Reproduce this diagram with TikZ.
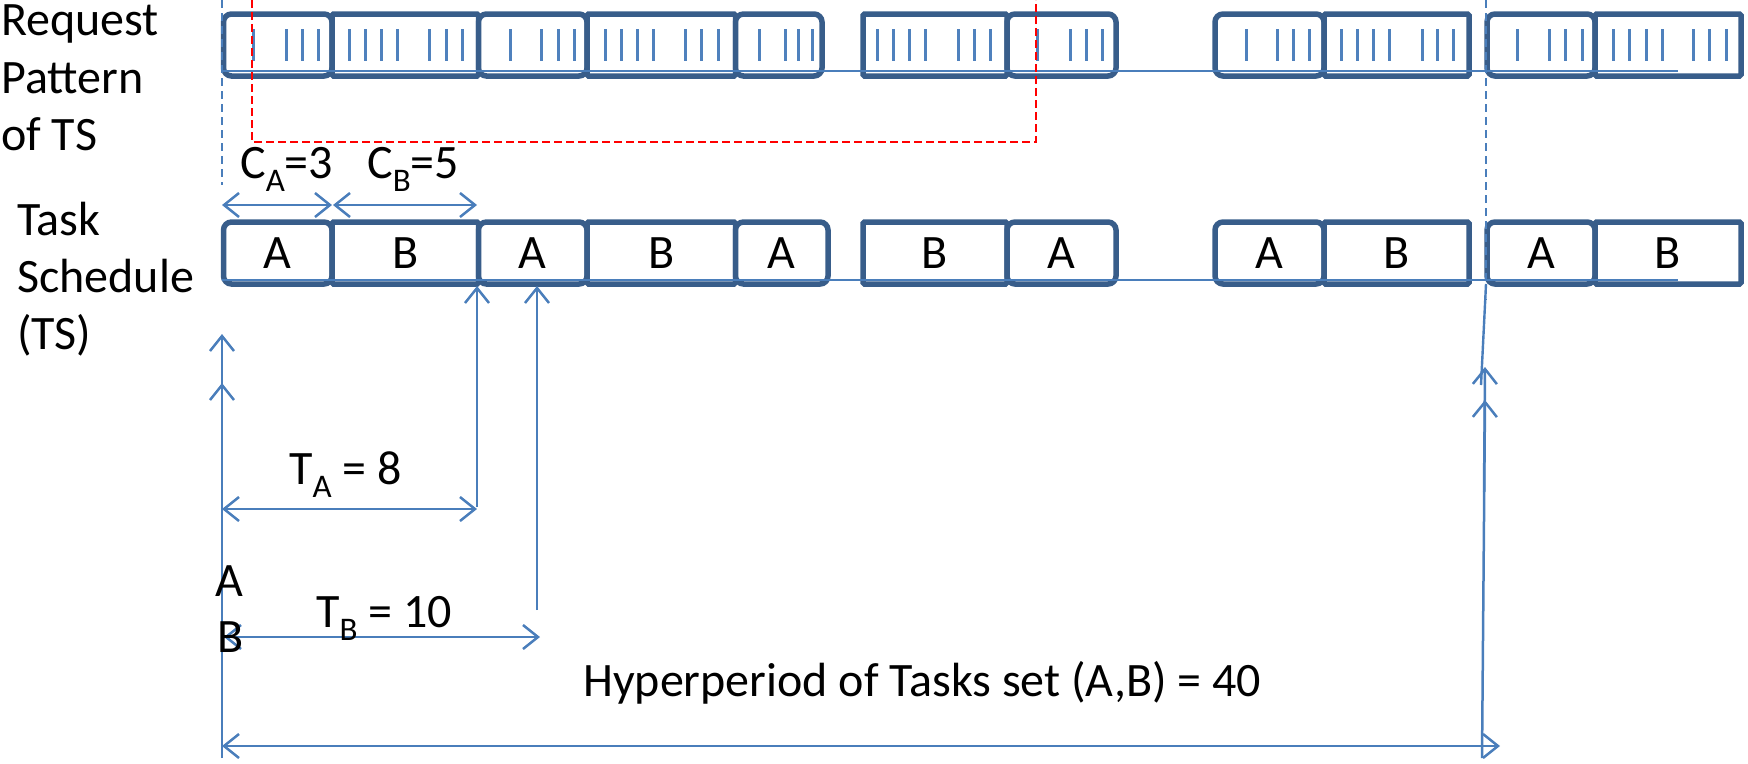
\documentclass[tikz,border=0pt]{standalone}
\usepackage{fontspec}
\setmainfont{Carlito}
\usetikzlibrary{arrows.meta}

\definecolor{boxblue}{HTML}{385D8A}
\definecolor{lineblue}{HTML}{4A7EBB}
\definecolor{tickblue}{HTML}{4F81BD}

% subscript in the label font
\newcommand\lowsub[1]{\raisebox{-13pt}{\fontsize{33}{33}\selectfont #1}}
% a time slot given by its left, right, top and bottom edges
\newcommand\slot[7]{\node[#2, minimum width={(#4)-(#3)}, minimum height={(#6)-(#5)}]
  (#1) at ({((#3)+(#4))/2},{((#5)+(#6))/2}) {#7};}

\tikzset{
  barb/.tip={Straight Barb[length=15pt,width=24pt]},
  big/.style={font=\fontsize{48}{58}\selectfont},
  slotbox/.style={draw=boxblue, line width=5.5pt, fill=white, inner sep=0pt, big},
  aslot/.style={slotbox, rounded corners=8pt},
  bslot/.style={slotbox, rounded corners=1.5pt},
  baseline/.style={lineblue, line width=2.4pt},
  dim/.style={lineblue, line width=2.5pt, barb-barb},
  up/.style={lineblue, line width=2.5pt, -barb},
  tickmark/.style={tickblue, line width=3pt},
  guide/.style={lineblue, line width=2.4pt, dash pattern=on 8pt off 5pt},
  window/.style={red, line width=2.5pt, dash pattern=on 8pt off 4pt},
  txt/.style={big, inner sep=0pt, anchor=base west},
}

\begin{document}
\begin{tikzpicture}[x=1pt, y=-1pt]
\useasboundingbox (0,0) rectangle (1748,763);

% ---- request pattern row ----
\slot{r1}{aslot}{223.5}{332}{14}{76}{}
\slot{r2}{bslot}{332}{478.5}{14}{76}{}
\slot{r3}{aslot}{478.5}{587}{14}{76}{}
\slot{r4}{bslot}{587}{735.5}{14}{76}{}
\slot{r5}{aslot}{735.5}{822}{14}{76}{}
\slot{r6}{bslot}{863}{1007}{14}{76}{}
\slot{r7}{aslot}{1007}{1116}{14}{76}{}
\slot{r8}{aslot}{1215}{1324}{14}{76}{}
\slot{r9}{bslot}{1324}{1469}{14}{76}{}
\slot{r10}{aslot}{1487}{1595}{14}{76}{}
\slot{r11}{bslot}{1595}{1741}{14}{76}{}

\foreach \x in {253,286,302,318, 349,365,381,397,429,446,462,
                510,541,558,574, 605,621,637,653,685,701,718,
                759,785,798,812, 877,893.5,909,925.5,958,974,990,
                1037,1070,1086,1102, 1246,1277,1293,1309,
                1341.5,1357,1373,1389,1422,1437,1453,
                1517,1549,1565,1582, 1613,1629,1646,1662,1693,1709,1726}
  \draw[tickmark] (\x,29) -- (\x,61);

\coordinate (rb0) at (221.5,71);
\coordinate (rb1) at (1678,71);
\draw[baseline] (rb0) -- (rb1);

% ---- task schedule row ----
\slot{s1}{aslot}{223.5}{332}{222}{284}{A}
\slot{s2}{bslot}{332}{478.5}{222}{284}{B}
\slot{s3}{aslot}{478.5}{587}{222}{284}{A}
\slot{s4}{bslot}{587}{735.5}{222}{284}{B}
\slot{s5}{aslot}{735.5}{828}{222}{284}{A}
\slot{s6}{bslot}{863}{1007}{222}{284}{B}
\slot{s7}{aslot}{1007}{1116}{222}{284}{A}
\slot{s8}{aslot}{1215}{1324}{222}{284}{A}
\slot{s9}{bslot}{1324}{1469}{222}{284}{B}
\slot{s10}{aslot}{1487}{1595}{222}{284}{A}
\slot{s11}{bslot}{1595}{1741}{222}{284}{B}

\coordinate (sb0) at (221.5,280);
\coordinate (sb1) at (1678,280);
\draw[baseline] (sb0) -- (sb1);

% ---- guides ----
\coordinate (gl0) at (222,0);   \coordinate (gl1) at (222,185);
\coordinate (gr0) at (1486,0);  \coordinate (gr1) at (1486,300);
\draw[guide] (gl0) -- (gl1);
\draw[guide] (gr0) -- (gr1);

\coordinate (w0) at (252,0);    \coordinate (w1) at (252,142);
\coordinate (w2) at (1036,142); \coordinate (w3) at (1036,0);
\draw[window] (w0) -- (w1) -- (w2) -- (w3);

% ---- execution times ----
\coordinate (ca0) at (222,205); \coordinate (ca1) at (332,205);
\coordinate (cb0) at (333,205); \coordinate (cb1) at (477,205);
\draw[dim] (ca0) -- (ca1);
\draw[dim] (cb0) -- (cb1);
\node[txt] (calab) at (240,178) {C\lowsub{A}=3};
\node[txt] (cblab) at (367,178) {C\lowsub{B}=5};

% ---- releases at time 0 ----
\coordinate (ra0) at (222,460); \coordinate (ra1) at (222,334);
\coordinate (rl0) at (222,758); \coordinate (rl1) at (222,383);
\draw[up] (ra0) -- (ra1);
\draw[up] (rl0) -- (rl1);

% ---- releases at the end of the hyperperiod ----
\coordinate (ha0) at (1484,492); \coordinate (ha1) at (1485,367);
\coordinate (hb0) at (1482,758); \coordinate (hb1) at (1485,400);
\coordinate (hs0) at (1486,284); \coordinate (hs1) at (1481,385);
\draw[up] (ha0) -- (ha1);
\draw[up] (hb0) -- (hb1);
\draw[baseline] (hs0) -- (hs1);

% ---- periods ----
\coordinate (pa0) at (477,507); \coordinate (pa1) at (477,286);
\coordinate (pb0) at (537,610); \coordinate (pb1) at (537,286);
\draw[up] (pa0) -- (pa1);
\draw[up] (pb0) -- (pb1);

\coordinate (ta0) at (222,509); \coordinate (ta1) at (477,509);
\draw[dim] (ta0) -- (ta1);
\node[txt] (talab) at (289,484) {T\lowsub{A} = 8};

\coordinate (tb0) at (224,637); \coordinate (tb1) at (540,637);
\draw[dim] (tb0) -- (tb1);
\node[txt] (tblab) at (316,627) {T\lowsub{B} = 10};

\node[txt] (alab) at (215,596) {A};
\node[txt] (blab) at (217,652) {B};

\coordinate (hp0) at (222,746); \coordinate (hp1) at (1500,746);
\draw[dim] (hp0) -- (hp1);
\node[txt] (hplab) at (583,696) {Hyperperiod of Tasks set (A,B) = 40};

% ---- row titles ----
\node[txt] (rq1) at (1,35)  {Request};
\node[txt] (rq2) at (1,93)  {Pattern};
\node[txt] (rq3) at (1,150) {of TS};
\node[txt] (ts1) at (17,235) {Task};
\node[txt] (ts2) at (17,292) {Schedule};
\node[txt] (ts3) at (17,349) {(TS)};
\end{tikzpicture}
\end{document}
